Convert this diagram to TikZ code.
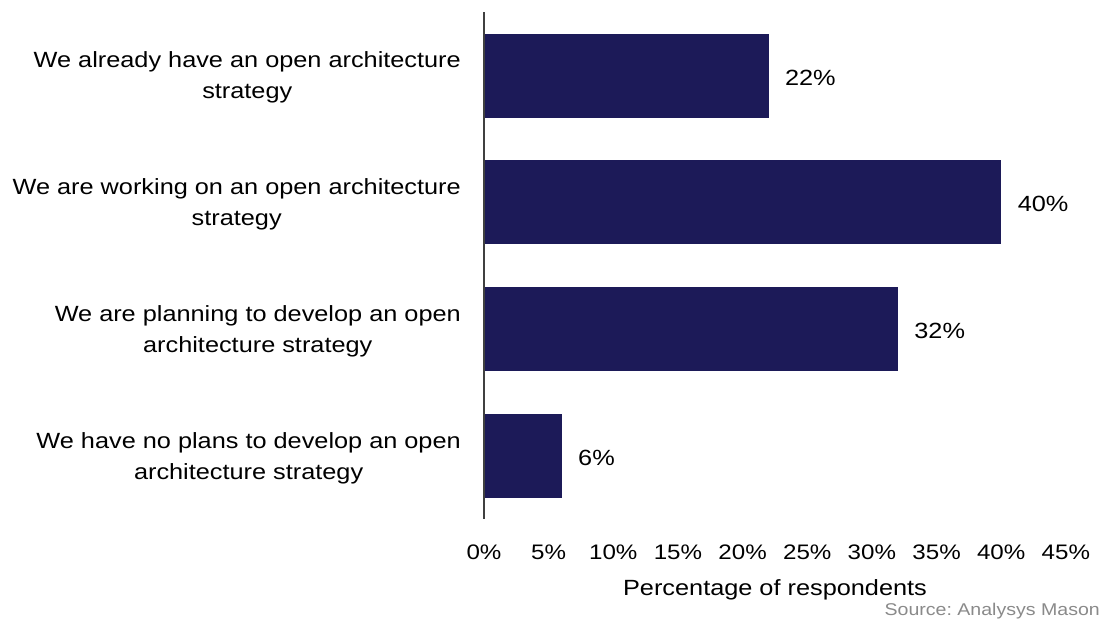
\documentclass[tikz,border=0pt]{standalone}
\usepackage{fontspec}
\setmainfont{Liberation Sans}[FakeStretch=1.15]
\frenchspacing
\definecolor{barnavy}{HTML}{1C1A58}
\definecolor{srcgray}{HTML}{8A8A8A}
\definecolor{axisgray}{HTML}{404040}
\begin{document}
\begin{tikzpicture}[x=1pt,y=-1pt,
  catlabel/.style={anchor=east,align=center,font=\fontsize{22}{31}\selectfont,inner sep=0pt},
  barbox/.style={anchor=west,fill=barnavy,draw=none,minimum height=84pt,inner sep=0pt},
  vallabel/.style={anchor=west,font=\fontsize{22}{26}\selectfont,inner sep=0pt},
  ticklabel/.style={anchor=center,font=\fontsize{21}{26}\selectfont,inner sep=0pt},
  axisline/.style={draw=axisgray,line width=1.3pt}]
\useasboundingbox (0,0) rectangle (1102,621);
\fill[white] (0,0) rectangle (1102,621);
% category labels
\node[catlabel] (c1) at (461,77) {We already have an open architecture\\strategy};
\node[catlabel] (c2) at (461,204) {We are working on an open architecture\\strategy};
\node[catlabel] (c3) at (461,331) {We are planning to develop an open\\architecture strategy};
\node[catlabel] (c4) at (461,458) {We have no plans to develop an open\\architecture strategy};
% bars (12.93 px per percent)
\node[barbox,minimum width=284.5pt] (b1) at (484,75.5) {};
\node[barbox,minimum width=517.2pt] (b2) at (484,202) {};
\node[barbox,minimum width=413.8pt] (b3) at (484,329) {};
\node[barbox,minimum width=77.6pt] (b4) at (484,456) {};
% value labels
\node[vallabel] (v1) at ([xshift=16pt,yshift=-2pt]b1.east) {22\%};
\node[vallabel] (v2) at ([xshift=16pt,yshift=-2pt]b2.east) {40\%};
\node[vallabel] (v3) at ([xshift=16pt,yshift=-2pt]b3.east) {32\%};
\node[vallabel] (v4) at ([xshift=16pt,yshift=-2pt]b4.east) {6\%};
% axis
\coordinate (atop) at (484,12);
\coordinate (abot) at (484,519);
\draw[axisline] (atop) -- (abot);
% tick labels
\foreach \i in {0,...,9} {
  \pgfmathtruncatemacro{\v}{5*\i}
  \node[ticklabel] (t\i) at ({484+64.65*\i},552) {\v\%};
}
\node[ticklabel,font=\fontsize{22}{26}\selectfont] (xt) at (775,590) {Percentage of respondents};
\node[anchor=east,inner sep=0pt,text=srcgray,font=\fontsize{17}{20}\selectfont] (src) at (1100,611) {Source: Analysys Mason};
\end{tikzpicture}
\end{document}
